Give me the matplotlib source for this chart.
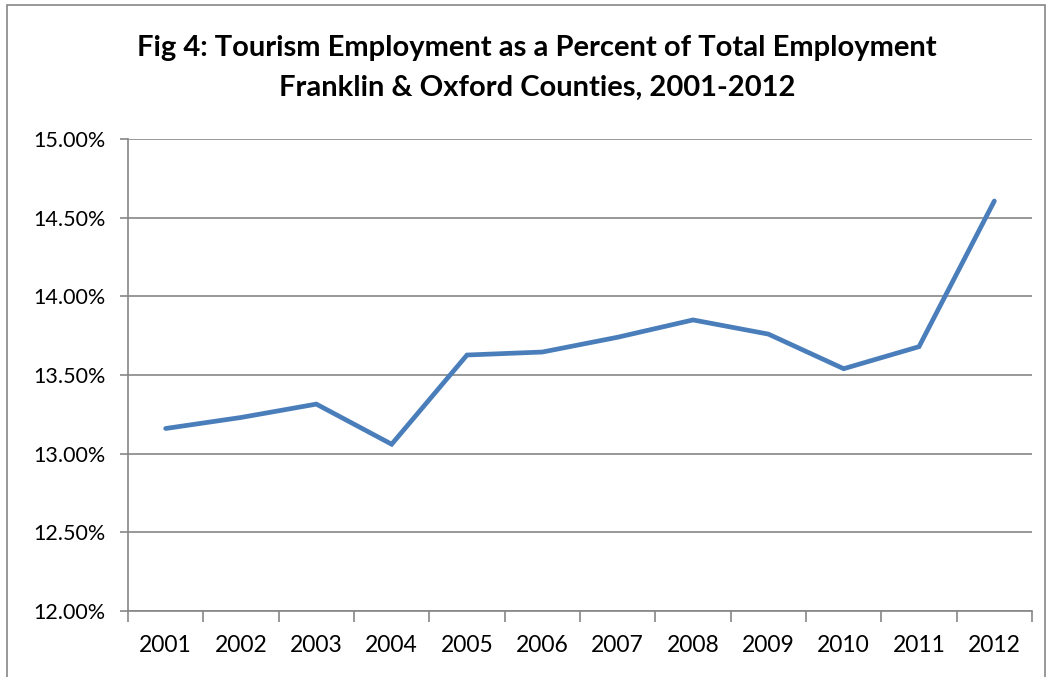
import matplotlib.pyplot as plt
from matplotlib.patches import Rectangle
from matplotlib.ticker import FuncFormatter, FixedLocator

plt.rcParams['font.family'] = ['Lato', 'DejaVu Sans']

years = ['2001', '2002', '2003', '2004', '2005', '2006',
         '2007', '2008', '2009', '2010', '2011', '2012']
share = [13.16, 13.23, 13.315, 13.06, 13.627, 13.646,
         13.74, 13.85, 13.76, 13.54, 13.68, 14.606]

W, H = 1048, 677
fig = plt.figure(figsize=(W / 100, H / 100), dpi=100)
ax = fig.add_axes([128 / W, 1 - 611 / H, (1032 - 128) / W, (611 - 139) / H])

# chart frame
fig.patches.append(Rectangle((7 / W, -0.05), (1045 - 7) / W, 1.05 - 5 / H,
                             transform=fig.transFigure, fill=False,
                             edgecolor='#868686', linewidth=1.2))

x = list(range(len(years)))
ax.plot(x, share, color='#4A7EBB', linewidth=3.4, solid_capstyle='round',
        solid_joinstyle='miter', zorder=3)

ax.set_xlim(-0.5, len(years) - 0.5)
ax.set_ylim(12.0, 15.0)
ax.set_yticks([12.0, 12.5, 13.0, 13.5, 14.0, 14.5, 15.0])
ax.yaxis.set_major_formatter(FuncFormatter(lambda v, p: '%.2f%%' % v))
ax.grid(axis='y', color='#868686', linewidth=1.2)
ax.set_axisbelow(True)

# category axis: ticks between categories, labels at centres
ax.xaxis.set_major_locator(FixedLocator([i - 0.5 for i in range(len(years) + 1)]))
ax.set_xticklabels([])
ax.set_xticks(x, minor=True)
ax.set_xticklabels(years, minor=True)
ax.tick_params(axis='x', which='minor', length=0, pad=17, labelsize=16.5)
ax.tick_params(axis='x', which='major', length=8, width=1.2, color='#868686')
ax.tick_params(axis='y', length=6, width=1.2, color='#868686', labelsize=15.5, pad=10)

for s in ['top', 'right']:
    ax.spines[s].set_visible(False)
for s in ['left', 'bottom']:
    ax.spines[s].set_color('#868686')
    ax.spines[s].set_linewidth(1.2)

fig.text(537 / W, 1 - 48 / H, 'Fig 4: Tourism Employment as a Percent of Total Employment',
         ha='center', va='center', fontsize=21, fontweight='bold')
fig.text(537 / W, 1 - 88 / H, 'Franklin & Oxford Counties, 2001-2012',
         ha='center', va='center', fontsize=21, fontweight='bold')

fig.savefig('out.png', dpi=100)
